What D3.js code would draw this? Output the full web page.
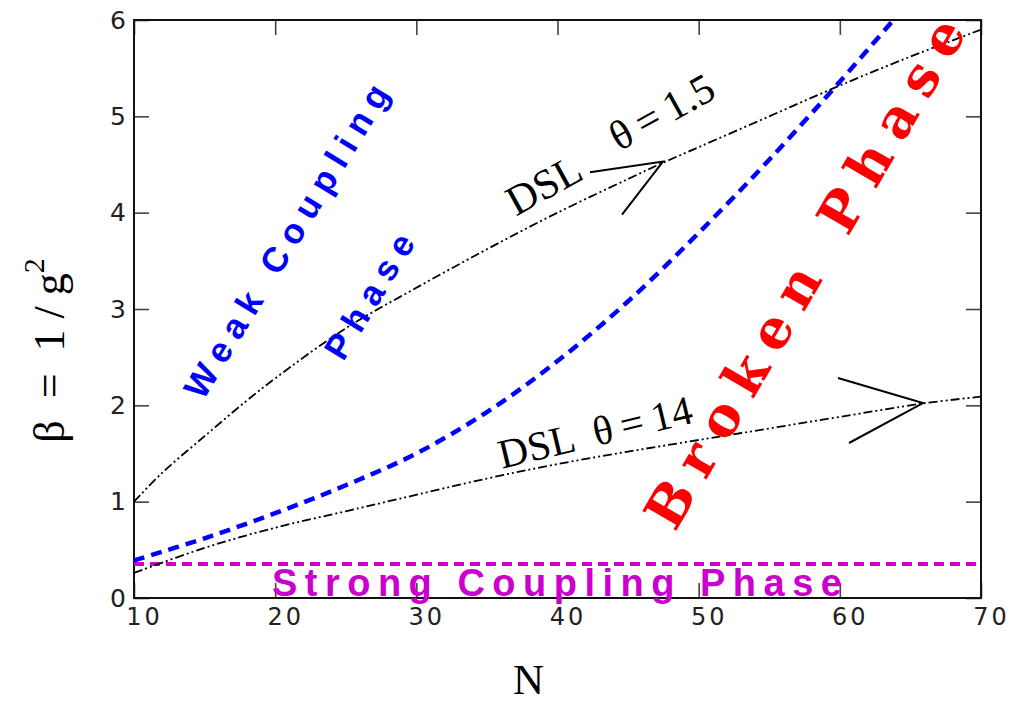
<!DOCTYPE html>
<html>
<head>
<meta charset="utf-8">
<script src="https://cdn.jsdelivr.net/npm/d3@7"></script>
<style>
  body { margin: 0; background: #fff; }
  text { white-space: pre; }
</style>
</head>
<body>
<svg></svg>
<script>
// tick values
const nTicks = [10, 20, 30, 40, 50, 60, 70];
const betaTicks = [0, 1, 2, 3, 4, 5, 6];

// DSL, theta = 1.5
const dslHighN = [10, 12, 15, 18, 20, 25, 30, 35, 40, 45, 47.5, 50, 55, 60, 65, 70];
const dslHighBeta = [1.0, 1.3, 1.68, 2.05, 2.28, 2.8, 3.22, 3.62, 4.0, 4.35, 4.52, 4.68, 5.0, 5.32, 5.62, 5.9];

// weak coupling / broken phase boundary
const boundaryN = [10, 15, 20, 25, 30, 35, 40, 45, 50, 55, 60, 63.8];
const boundaryBeta = [0.39, 0.62, 0.88, 1.17, 1.5, 1.93, 2.46, 3.08, 3.79, 4.55, 5.36, 6.0];

// DSL, theta = 14
const dslLowN = [10, 15, 20, 25, 28.8, 35, 40, 45, 50, 55, 60, 65.9, 70];
const dslLowBeta = [0.26, 0.52, 0.73, 0.9, 1.03, 1.24, 1.39, 1.52, 1.64, 1.76, 1.88, 2.02, 2.09];

// strong coupling boundary
const strongBeta = 0.353;

const W = 1013, H = 705;
const margin = { top: 20, right: 32, bottom: 107, left: 134 };

const svg = d3.select('svg').attr('width', W).attr('height', H);

const x = d3.scaleLinear().domain([10, 70]).range([margin.left, W - margin.right]);
const y = d3.scaleLinear().domain([0, 6]).range([H - margin.bottom, margin.top]);

const zip = (a, b) => a.map((v, i) => [v, b[i]]);
const line = d3.line().x(d => x(d[0])).y(d => y(d[1])).curve(d3.curveCatmullRom);

// axes (ticks point inward)
function styleAxis(g) {
    g.select('.domain').remove();
    g.selectAll('.tick line').attr('stroke', '#444').attr('stroke-width', 1.6);
}

svg.append('g')
    .attr('transform', `translate(0,${y(0)})`)
    .call(d3.axisBottom(x).tickValues(nTicks).tickSize(-15).tickPadding(10).tickFormat(d3.format('d')))
    .call(styleAxis)
    .call(g => g.selectAll('text')
        .attr('font-family', 'DejaVu Sans')
        .attr('font-size', 24)
        .attr('letter-spacing', 3)
        .attr('dx', 10)
        .attr('fill', '#222'));

svg.append('g')
    .attr('transform', `translate(0,${y(6)})`)
    .call(d3.axisTop(x).tickValues(nTicks).tickSize(-15).tickFormat(''))
    .call(styleAxis);

svg.append('g')
    .attr('transform', `translate(${x(10)},0)`)
    .call(d3.axisLeft(y).tickValues(betaTicks).tickSize(-15).tickPadding(8).tickFormat(d3.format('d')))
    .call(styleAxis)
    .call(g => g.selectAll('text')
        .attr('font-family', 'DejaVu Sans')
        .attr('font-size', 25)
        .attr('fill', '#222'));

svg.append('g')
    .attr('transform', `translate(${x(70)},0)`)
    .call(d3.axisRight(y).tickValues(betaTicks).tickSize(-15).tickFormat(''))
    .call(styleAxis);

// frame
svg.append('rect')
    .attr('x', x(10)).attr('y', y(6))
    .attr('width', x(70) - x(10)).attr('height', y(0) - y(6))
    .attr('fill', 'none').attr('stroke', '#111').attr('stroke-width', 2);

// curves
svg.append('line')
    .attr('x1', x(10)).attr('x2', x(70))
    .attr('y1', y(strongBeta)).attr('y2', y(strongBeta))
    .attr('stroke', '#cc00cc').attr('stroke-width', 4)
    .attr('stroke-dasharray', '10,6');

svg.append('path')
    .datum(zip(boundaryN, boundaryBeta))
    .attr('d', line)
    .attr('fill', 'none').attr('stroke', '#0000ff').attr('stroke-width', 4.5)
    .attr('stroke-dasharray', '11,7');

[zip(dslHighN, dslHighBeta), zip(dslLowN, dslLowBeta)].forEach(pts => {
    svg.append('path')
        .datum(pts)
        .attr('d', line)
        .attr('fill', 'none').attr('stroke', '#000').attr('stroke-width', 1.8)
        .attr('stroke-dasharray', '9,3,2,3,2,3');
});

// arrow heads on the DSL lines
const arrows = [
    [[42.3, 4.42], [47.47, 4.53], [44.57, 3.98]],
    [[59.87, 2.284], [65.89, 2.024], [60.65, 1.609]]
];
arrows.forEach(a => {
    svg.append('path')
        .attr('d', d3.line().x(d => x(d[0])).y(d => y(d[1]))(a))
        .attr('fill', 'none').attr('stroke', '#000').attr('stroke-width', 2);
});

// labels inside the plot
const labels = [
    { text: 'Weak Coupling', n: 20.77, b: 3.706, angle: -58.6, len: 360, size: 35, family: 'Liberation Sans', weight: 'bold', color: '#0000ff' },
    { text: 'Phase', n: 26.65, b: 3.135, angle: -58.6, len: 140, size: 35, family: 'Liberation Sans', weight: 'bold', color: '#0000ff' },
    { text: 'Broken Phase', n: 57.53, b: 3.374, angle: -59.7, len: 580, size: 54, family: 'DejaVu Serif', weight: 'bold', color: '#ff0000' },
    { text: 'Strong Coupling Phase', n: 39.96, b: 0.02, angle: 0, len: 570, size: 38, family: 'Liberation Sans', weight: 'bold', color: '#cc00cc', base: 'alphabetic' },
    { text: 'DSL', n: 39.04, b: 4.287, angle: -29, size: 42, family: 'Liberation Serif', weight: 'normal', color: '#000' },
    { text: '\u03b8\u2009=\u20091.5', n: 47.4, b: 5.045, angle: -29, size: 42, family: 'Liberation Serif', weight: 'normal', color: '#000' },
    { text: 'DSL  \u03b8\u2009=\u200914', n: 42.66, b: 1.723, angle: -13.5, len: 198, size: 41, family: 'Liberation Serif', weight: 'normal', color: '#000' }
];

labels.forEach(l => {
    const t = svg.append('text')
        .attr('transform', `translate(${x(l.n)},${y(l.b)}) rotate(${l.angle})`)
        .attr('text-anchor', 'middle')
        .attr('dominant-baseline', l.base || 'central')
        .attr('font-family', l.family)
        .attr('font-weight', l.weight)
        .attr('font-size', l.size)
        .attr('fill', l.color)
        .text(l.text);
    if (l.len) t.attr('textLength', l.len).attr('lengthAdjust', 'spacing');
});

// axis titles
svg.append('text')
    .attr('x', x(37.94)).attr('y', 694)
    .attr('text-anchor', 'middle')
    .attr('font-family', 'Liberation Serif')
    .attr('font-size', 43)
    .text('N');

const yTitle = svg.append('text')
    .attr('transform', `translate(64,${y(2.57)}) rotate(-90)`)
    .attr('text-anchor', 'middle')
    .attr('font-family', 'Liberation Serif')
    .attr('font-size', 44);
yTitle.append('tspan').text('\u03b2  =  1 / g');
yTitle.append('tspan').attr('font-size', 30).attr('dy', -20).text('2');
</script>
</body>
</html>
